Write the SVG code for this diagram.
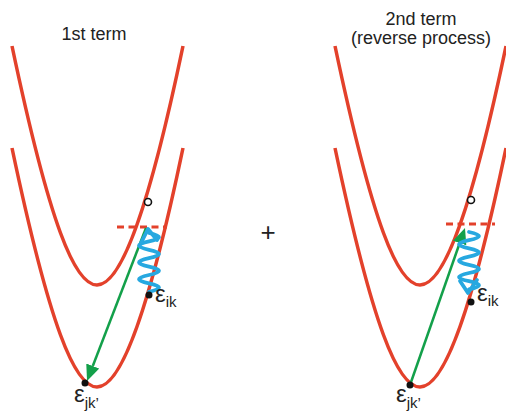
<svg xmlns="http://www.w3.org/2000/svg" width="506" height="417" viewBox="0 0 506 417">
<defs>
<style>
.band{fill:none;stroke:#e3412b;stroke-width:3.5;stroke-linecap:butt}
.dash{fill:none;stroke:#e3412b;stroke-width:3;stroke-dasharray:7 4.5}
.wave{fill:none;stroke:#27a8e0;stroke-width:3.8;stroke-linecap:round;stroke-linejoin:round}
.green{fill:none;stroke:#13a04a;stroke-width:2.5}
.dot{fill:#111}
.hole{fill:#fff;stroke:#111;stroke-width:1.6}
.t{font-family:"Liberation Sans",Arial,sans-serif;fill:#222}
.title{font-size:18px;text-anchor:middle}
.eps{font-size:24px}
.sub{font-size:15px}
</style>
<path id="band" d="M12,148 C50,328 75,387 97,387 C118,387 145,330 183,148"/>
<marker id="ga" viewBox="0 0 16 14" refX="0" refY="7" markerWidth="16" markerHeight="14" markerUnits="userSpaceOnUse" orient="auto">
<path d="M0,0 L16,7 L0,14 z" fill="#13a04a"/>
</marker>
</defs>
<rect width="506" height="417" fill="#fff"/>

<g id="left-panel">
<text class="t title" x="94" y="40">1st term</text>
<use href="#band" class="band" transform="translate(0,-102)"/>
<use href="#band" class="band"/>
<line class="dash" x1="117" y1="227" x2="167" y2="227"/>
</g>

<g id="right-panel">
<text class="t title" x="421" y="25">2nd term</text>
<text class="t title" x="421" y="44">(reverse process)</text>
<use href="#band" class="band" transform="translate(323,-102)"/>
<use href="#band" class="band" transform="translate(323,0)"/>
<line class="dash" x1="446" y1="224" x2="495" y2="224"/>
</g>

<g id="plus"><text class="t" x="268" y="241" font-size="26" text-anchor="middle">+</text></g>

<g id="connectors">
<line class="green" x1="146" y1="228" x2="92.8" y2="366" marker-end="url(#ga)"/>
<line class="green" x1="410" y1="385" x2="459.7" y2="243" marker-end="url(#ga)"/>
<path class="wave" d="M149,233 q20,4.2 0,8.4 t0,8.4 t0,8.4 t0,8.4 t0,8.4 t0,8.4 t0,8.4"/>
<path class="wave" d="M141,243 L148,229 L157,240"/>
<path class="wave" d="M469,232 q20,4.1 0,8.2 t0,8.2 t0,8.2 t0,8.2 t0,8.2 t0,8.2 t0,8.2"/>
<path class="wave" d="M460,281 L468,293 L477,280"/>
</g>

<g id="state-ik-left">
<circle class="dot" cx="149" cy="295" r="3.5"/>
<text class="t" x="155" y="302"><tspan class="eps">ε</tspan><tspan class="sub" dy="5">ik</tspan></text>
</g>
<g id="state-jk-left">
<circle class="dot" cx="85" cy="383" r="3.5"/>
<text class="t" x="74" y="402"><tspan class="eps">ε</tspan><tspan class="sub" dy="6">jk’</tspan></text>
</g>
<g id="hole-left"><circle class="hole" cx="148" cy="202" r="3.5"/></g>

<g id="state-ik-right">
<circle class="dot" cx="471" cy="302" r="3.5"/>
<text class="t" x="477" y="301"><tspan class="eps">ε</tspan><tspan class="sub" dy="5">ik</tspan></text>
</g>
<g id="state-jk-right">
<circle class="dot" cx="410" cy="385" r="3.5"/>
<text class="t" x="396" y="402"><tspan class="eps">ε</tspan><tspan class="sub" dy="6">jk’</tspan></text>
</g>
<g id="hole-right"><circle class="hole" cx="471" cy="200" r="3.5"/></g>
</svg>
